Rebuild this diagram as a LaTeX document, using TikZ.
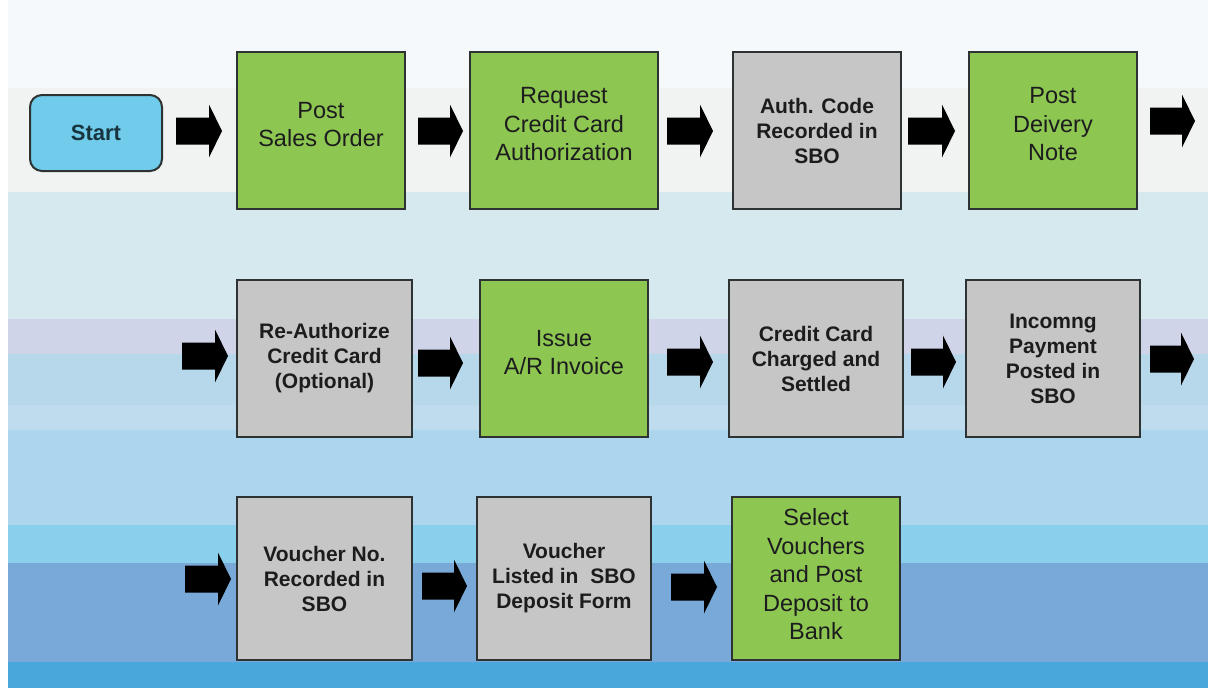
\documentclass[tikz,border=0pt]{standalone}
\usepackage{fontspec}
\setmainfont{Liberation Sans}
\definecolor{gfill}{RGB}{142,198,82}
\definecolor{gyfill}{RGB}{198,198,198}
\definecolor{stfill}{RGB}{112,204,234}
\definecolor{bord}{RGB}{45,50,50}
\definecolor{txt}{RGB}{28,28,30}
\definecolor{sttxt}{RGB}{24,52,62}
\definecolor{bA}{RGB}{245,249,251}
\definecolor{bB}{RGB}{241,242,242}
\definecolor{bC}{RGB}{214,233,239}
\definecolor{bD}{RGB}{208,212,232}
\definecolor{bE}{RGB}{183,215,234}
\definecolor{bF}{RGB}{190,220,238}
\definecolor{bG}{RGB}{173,213,237}
\definecolor{bH}{RGB}{138,207,236}
\definecolor{bI}{RGB}{120,169,216}
\definecolor{bJ}{RGB}{74,167,220}
\newcommand\blkarrow[3]{%
  \fill[black] (#1,#3-13.5) -- (#2-13,#3-13.5) -- (#2-13,#3-26.5) -- (#2,#3)
    -- (#2-13,#3+26.5) -- (#2-13,#3+13.5) -- (#1,#3+13.5) -- cycle;}
\begin{document}
\begin{tikzpicture}[x=1pt,y=-1pt,
  boxbase/.style={draw=bord, line width=2pt, align=center, text=txt, inner sep=0pt},
  gtxt/.style={align=center, text=txt, inner sep=0pt, font=\fontsize{23.5}{28.5}\selectfont},
  gbox/.style={boxbase, fill=gfill},
  gybox/.style={boxbase, fill=gyfill, font=\bfseries\fontsize{21}{25}\selectfont},
  stbox/.style={boxbase, fill=stfill, rounded corners=12pt, text=sttxt,
     font=\bfseries\fontsize{22}{26}\selectfont}]
\useasboundingbox (0,0) rectangle (1208,688);
% background bands
\fill[white] (0,0) rectangle (1208,688);
\fill[bA] (8,0) rectangle (1208,88);
\fill[bB] (8,88) rectangle (1208,192);
\fill[bC] (8,192) rectangle (1208,319);
\fill[bD] (8,319) rectangle (1208,354);
\fill[bE] (8,354) rectangle (1208,405);
\fill[bF] (8,405) rectangle (1208,430);
\fill[bG] (8,430) rectangle (1208,525);
\fill[bH] (8,525) rectangle (1208,563);
\fill[bI] (8,563) rectangle (1208,662);
\fill[bJ] (8,662) rectangle (1208,688);
% row 1
\node[stbox, minimum width=132pt, minimum height=76pt] (start) at (96,133) {Start};
\node[gbox, minimum width=168pt, minimum height=157pt,
  label={[gtxt,yshift=6pt]center:Post\\Sales Order}] (psales) at (321,130.5) {};
\node[gbox, minimum width=188pt, minimum height=157pt,
  label={[gtxt,yshift=6pt]center:Request\\Credit Card\\Authorization}] (req) at (564,130.5) {};
\node[gybox, minimum width=168pt, minimum height=157pt] (auth) at (817,130.5) {Auth. Code\\Recorded in\\SBO};
\node[gbox, minimum width=168pt, minimum height=157pt,
  label={[gtxt,yshift=6pt]center:Post\\Deivery\\Note}] (pdel) at (1053,130.5) {};
% row 2
\node[gybox, minimum width=175pt, minimum height=157pt] (reauth) at (324.5,358.5) {Re-Authorize\\Credit Card\\(Optional)};
\node[gbox, minimum width=168pt, minimum height=157pt,
  label={[gtxt,yshift=6pt]center:Issue\\A/R Invoice}] (issue) at (564,358.5) {};
\node[gybox, minimum width=174pt, minimum height=157pt] (ccc) at (816,358.5) {Credit Card\\Charged and\\Settled};
\node[gybox, minimum width=174pt, minimum height=157pt] (inc) at (1053,358.5) {Incomng\\Payment\\Posted in\\SBO};
% row 3
\node[gybox, minimum width=175pt, minimum height=163pt] (vno) at (324.5,578.5) {Voucher No.\\Recorded in\\SBO};
\node[gybox, minimum width=174pt, minimum height=163pt] (vlist) at (564,578.5) {Voucher\\Listed in\ \ SBO\\Deposit Form};
\node[gbox, minimum width=168pt, minimum height=163pt,
  label={[gtxt,yshift=4pt]center:Select\\Vouchers\\and Post\\Deposit to\\Bank}] (sel) at (816,578.5) {};
% block arrows
\blkarrow{176}{222}{131}
\blkarrow{418}{463}{131}
\blkarrow{667}{713}{131}
\blkarrow{908}{955}{131}
\blkarrow{1150}{1195}{121}
\blkarrow{182}{228}{356}
\blkarrow{418}{463}{363}
\blkarrow{667}{713}{362}
\blkarrow{911}{956}{362}
\blkarrow{1150}{1194}{359}
\blkarrow{185}{231}{579}
\blkarrow{422}{467}{586}
\blkarrow{671}{717}{587}
\end{tikzpicture}
\end{document}
